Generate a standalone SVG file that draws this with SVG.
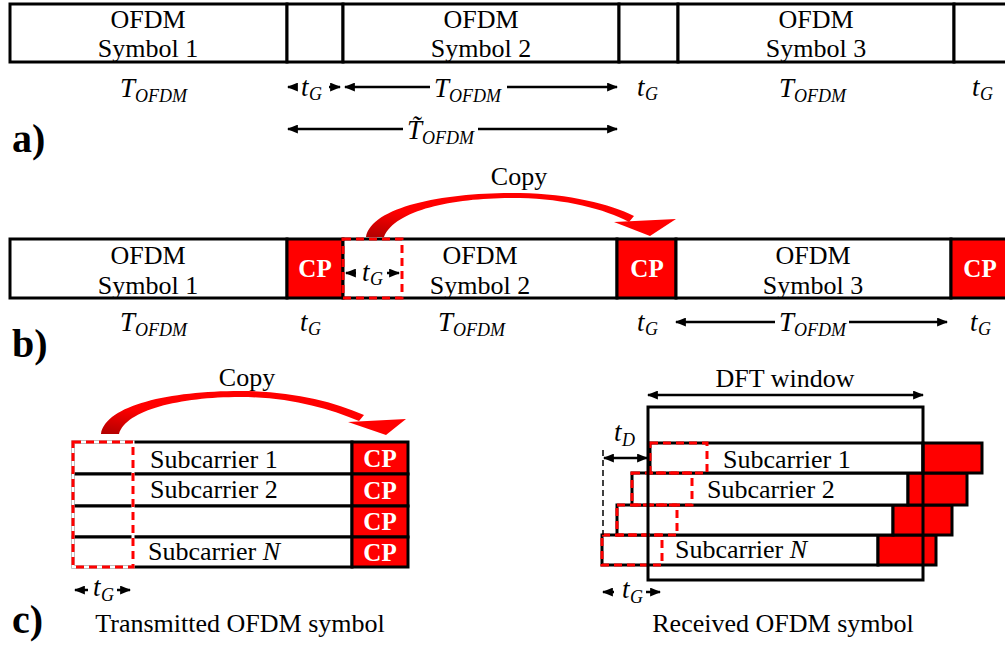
<svg xmlns="http://www.w3.org/2000/svg" width="1005" height="648" viewBox="0 0 1005 648">
<style>
.box{fill:#fff;stroke:#000;stroke-width:3}
.cp{fill:#f00;stroke:#000;stroke-width:3}
.t{font-family:"Liberation Serif","Times New Roman",serif;font-size:26px;fill:#000}
.c{text-anchor:middle}
.it{font-style:italic;font-size:27px}
.sub{font-style:italic;font-size:18px}
.cpt{font-family:"Liberation Serif","Times New Roman",serif;font-weight:bold;fill:#fff;font-size:25px;text-anchor:middle}
.lbl{font-family:"Liberation Serif","Times New Roman",serif;font-weight:bold;font-size:40px;fill:#000}
.a{stroke:#000;stroke-width:2.5;fill:none}
.as{marker-start:url(#ah)}
.ae{marker-end:url(#ah)}
.dash{fill:none;stroke:#f00;stroke-width:3;stroke-dasharray:8 5}
.wedge{fill:none;stroke:#fff;stroke-width:3}
.vd{stroke:#000;stroke-width:1.5;stroke-dasharray:6 4;fill:none}
.arc{fill:url(#rg)}
</style>
<defs>
<marker id="ah" viewBox="0 0 10 8" refX="9" refY="4" markerWidth="11" markerHeight="9" markerUnits="userSpaceOnUse" orient="auto-start-reverse"><path d="M0,0 L10,4 L0,8 z" fill="#000"/></marker>
<linearGradient id="rg" x1="0" y1="1" x2="1" y2="0"><stop offset="0" stop-color="#b00000"/><stop offset="0.35" stop-color="#f00"/><stop offset="1" stop-color="#f00"/></linearGradient>
</defs>

<!-- ===== a) ===== -->
<g id="a-sym1"><rect class="box" x="10" y="4" width="277" height="58"/><text class="t c" x="148" y="28">OFDM</text><text class="t c" x="148" y="57">Symbol 1</text></g>
<g id="a-gap1"><rect class="box" x="287" y="4" width="56" height="58"/></g>
<g id="a-sym2"><rect class="box" x="343" y="4" width="276" height="58"/><text class="t c" x="481" y="28">OFDM</text><text class="t c" x="481" y="57">Symbol 2</text></g>
<g id="a-gap2"><rect class="box" x="619" y="4" width="59" height="58"/></g>
<g id="a-sym3"><rect class="box" x="678" y="4" width="276" height="58"/><text class="t c" x="816" y="28">OFDM</text><text class="t c" x="816" y="57">Symbol 3</text></g>
<g id="a-gap3"><rect class="box" x="954" y="4" width="60" height="58"/></g>

<g id="a-labels">
<text class="t it" x="120" y="97">T</text><text class="t sub" x="135" y="102">OFDM</text>
<text class="t it" x="301" y="96">t</text><text class="t sub" x="309" y="100">G</text>
<text class="t it" x="434" y="97">T</text><text class="t sub" x="449" y="102">OFDM</text>
<text class="t it" x="637" y="96">t</text><text class="t sub" x="645" y="100">G</text>
<text class="t it" x="779" y="97">T</text><text class="t sub" x="794" y="102">OFDM</text>
<text class="t it" x="972" y="96">t</text><text class="t sub" x="980" y="100">G</text>
<text class="t it" x="407" y="139">T&#771;</text><text class="t sub" x="422" y="144">OFDM</text>
<text class="lbl" x="12" y="152">a)</text>
</g>

<!-- ===== b) ===== -->
<g id="b-sym1"><rect class="box" x="10" y="239" width="277" height="59"/><text class="t c" x="148" y="264">OFDM</text><text class="t c" x="148" y="294">Symbol 1</text></g>
<g id="b-cp1"><rect class="cp" x="287" y="239" width="56" height="59"/><text class="cpt" x="315" y="277">CP</text></g>
<g id="b-sym2"><rect class="box" x="343" y="239" width="274" height="59"/><text class="t c" x="480" y="264">OFDM</text><text class="t c" x="480" y="294">Symbol 2</text>
<rect class="dash" x="343" y="239" width="59" height="59"/></g>
<g id="b-cp2"><rect class="cp" x="617" y="239" width="59" height="59"/><text class="cpt" x="647" y="277">CP</text></g>
<g id="b-sym3"><rect class="box" x="676" y="239" width="275" height="59"/><text class="t c" x="813" y="264">OFDM</text><text class="t c" x="813" y="294">Symbol 3</text></g>
<g id="b-cp3"><rect class="cp" x="951" y="239" width="60" height="59"/><text class="cpt" x="980" y="277">CP</text></g>

<g id="b-labels">
<text class="t it" x="362" y="281">t</text><text class="t sub" x="370" y="285">G</text>
<text class="t it" x="120" y="331">T</text><text class="t sub" x="135" y="336">OFDM</text>
<text class="t it" x="300" y="331">t</text><text class="t sub" x="308" y="335">G</text>
<text class="t it" x="438" y="331">T</text><text class="t sub" x="453" y="336">OFDM</text>
<text class="t it" x="637" y="331">t</text><text class="t sub" x="645" y="335">G</text>
<text class="t it" x="779" y="331">T</text><text class="t sub" x="794" y="336">OFDM</text>
<text class="t it" x="970" y="331">t</text><text class="t sub" x="978" y="335">G</text>
<text class="t c" x="519" y="185">Copy</text>
<text class="lbl" x="12" y="357">b)</text>
</g>

<!-- ===== c) left ===== -->
<g id="c-tx">
<rect class="box" x="73" y="442" width="279" height="32"/><rect class="cp" x="352" y="442" width="56" height="32"/>
<rect class="box" x="73" y="474" width="279" height="32"/><rect class="cp" x="352" y="474" width="56" height="32"/>
<rect class="box" x="73" y="506" width="279" height="31"/><rect class="cp" x="352" y="506" width="56" height="31"/>
<rect class="box" x="73" y="537" width="279" height="30"/><rect class="cp" x="352" y="537" width="56" height="30"/>
<rect class="wedge" x="73" y="442" width="60" height="125"/>
<rect class="dash" x="73" y="442" width="60" height="125"/>
<text class="t" x="150" y="468">Subcarrier 1</text>
<text class="t" x="150" y="498">Subcarrier 2</text>
<text class="t" x="148" y="560">Subcarrier <tspan font-style="italic">N</tspan></text>
<text class="cpt" x="380" y="467">CP</text>
<text class="cpt" x="380" y="499">CP</text>
<text class="cpt" x="380" y="530">CP</text>
<text class="cpt" x="380" y="561">CP</text>
<text class="t it" x="93" y="596">t</text><text class="t sub" x="101" y="601">G</text>
<text class="t c" x="240" y="632">Transmitted OFDM symbol</text>
<text class="t c" x="247" y="386">Copy</text>
<text class="lbl" x="12" y="633">c)</text>
</g>

<!-- ===== c) right ===== -->
<g id="c-rx">
<rect class="box" x="602" y="535" width="276" height="30"/><rect class="cp" x="878" y="535" width="58" height="30"/>
<rect class="box" x="617" y="505" width="276" height="30"/><rect class="cp" x="893" y="505" width="59" height="30"/>
<rect class="box" x="632" y="473" width="276" height="32"/><rect class="cp" x="908" y="473" width="59" height="32"/>
<rect class="box" x="650" y="443" width="273" height="30"/><rect class="cp" x="923" y="443" width="59" height="30"/>
<rect class="dash" x="650" y="443" width="57" height="30"/>
<rect class="dash" x="632" y="473" width="60" height="32"/>
<rect class="dash" x="617" y="505" width="60" height="30"/>
<rect class="dash" x="602" y="535" width="60" height="30"/>
<rect x="648" y="407" width="275" height="173" fill="none" stroke="#000" stroke-width="3"/>
<text class="t" x="723" y="468">Subcarrier 1</text>
<text class="t" x="707" y="498">Subcarrier 2</text>
<text class="t" x="675" y="558">Subcarrier <tspan font-style="italic">N</tspan></text>
<text class="t c" x="785" y="387">DFT window</text>
<text class="t it" x="614" y="441">t</text><text class="t sub" x="622" y="446">D</text>
<text class="t it" x="622" y="598">t</text><text class="t sub" x="630" y="603">G</text>
<text class="t c" x="783" y="632">Received OFDM symbol</text>
</g>

<!-- ===== connectors ===== -->
<g id="connectors">
<line class="a as" x1="288" y1="87" x2="297" y2="87"/><line class="a ae" x1="329" y1="87" x2="340" y2="87"/>
<line class="a as" x1="345" y1="87" x2="430" y2="87"/><line class="a ae" x1="507" y1="87" x2="617" y2="87"/>
<line class="a as" x1="288" y1="129" x2="403" y2="129"/><line class="a ae" x1="478" y1="129" x2="617" y2="129"/>
<line class="a as" x1="346" y1="273" x2="356" y2="273"/><line class="a ae" x1="387" y1="273" x2="399" y2="273"/>
<line class="a as" x1="676" y1="322" x2="775" y2="322"/><line class="a ae" x1="849" y1="322" x2="947" y2="322"/>
<line class="a as" x1="75" y1="590" x2="88" y2="590"/><line class="a ae" x1="117" y1="590" x2="130" y2="590"/>
<line class="a as ae" x1="648" y1="395" x2="923" y2="395"/>
<line class="vd" x1="603" y1="450" x2="603" y2="535"/>
<line class="a as ae" x1="604" y1="458" x2="647" y2="458"/>
<line class="a as" x1="603" y1="592" x2="614" y2="592"/><line class="a ae" x1="646" y1="592" x2="660" y2="592"/>
<path class="arc" d="M366 237 C372 205 450 192 520 193 C570 194 610 204 634 216 L629 222 C605 209 565 199 520 198 C460 197 396 208 384 237 Z"/>
<polygon fill="#f00" points="614,222 676,219 650,236"/>
<path class="arc" d="M101 434 C106 405 170 391 240 391 C290 391 332 401 364 415 L359 421 C328 408 288 397 240 397 C180 397 126 410 119 434 Z"/>
<polygon fill="#f00" points="348,422 406,419 386,435"/>
</g>
</svg>
